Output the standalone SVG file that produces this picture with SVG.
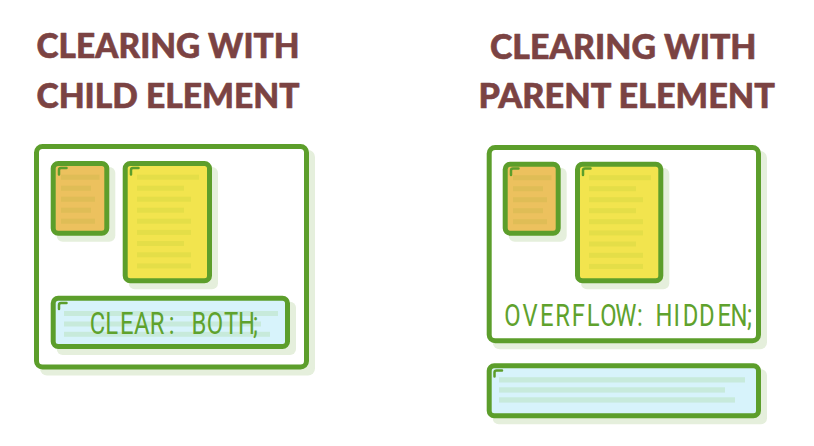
<svg xmlns="http://www.w3.org/2000/svg" width="814" height="446" viewBox="0 0 814 446">
<defs>
<style>
.title{font-family:Lato,"Open Sans","Liberation Sans",sans-serif;font-weight:900;font-size:34px;fill:#7b4343;stroke:#7b4343;stroke-width:0.6;stroke-linejoin:round}
.code{font-family:Roboto,"Liberation Sans",sans-serif;font-weight:400;font-size:30.5px;fill:#5fa22d;text-anchor:middle}
.box{stroke:#5c9e2b;stroke-width:5}
.outer{fill:#ffffff}
.orange{fill:#ecc15e}
.yellow{fill:#f2e44e}
.blue{fill:#d7f3fb}
.shadow{fill:#e5efdc}
.lo{fill:#dfbd56}
.ly{fill:#e4de48}
.lb{fill:#c7eadb}
.mark{fill:none;stroke:#5c9e2b;stroke-width:2.5;stroke-linecap:round}
</style>
</defs>
<rect width="814" height="446" fill="#ffffff"/>

<g id="title-left">
<text class="title" x="36.5" y="57.5" textLength="263" lengthAdjust="spacingAndGlyphs">CLEARING WITH</text>
<text class="title" x="36.5" y="107.5" textLength="263" lengthAdjust="spacingAndGlyphs">CHILD ELEMENT</text>
</g>
<g id="title-right">
<text class="title" x="490" y="59" textLength="266.5" lengthAdjust="spacingAndGlyphs">CLEARING WITH</text>
<text class="title" x="478.5" y="108" textLength="296.5" lengthAdjust="spacingAndGlyphs">PARENT ELEMENT</text>
</g>

<!-- LEFT -->
<g id="left-parent">
<rect class="shadow" x="40" y="150" width="275" height="225.5" rx="7"/>
<rect class="box outer" x="36.5" y="146.5" width="270" height="220.5" rx="6"/>
</g>
<g id="left-orange">
<rect class="shadow" x="56.7" y="167" width="58.6" height="74.7" rx="6"/>
<rect class="box orange" x="53.2" y="163.5" width="53.6" height="69.7" rx="5"/>
<rect class="lo" x="61" y="174.7" width="38.5" height="5"/>
<rect class="lo" x="61" y="185.7" width="30" height="5"/>
<rect class="lo" x="61" y="196.7" width="34" height="5"/>
<rect class="lo" x="61" y="207.7" width="30" height="5"/>
<rect class="lo" x="61" y="218.7" width="34" height="5"/>
<path class="mark" d="M59 174.5 v-4.5 a2 2 0 0 1 2-2 h5.5"/>
</g>
<g id="left-yellow">
<rect class="shadow" x="128.7" y="167" width="89.3" height="122.3" rx="6"/>
<rect class="box yellow" x="125.2" y="163.5" width="84.3" height="117.3" rx="5"/>
<rect class="ly" x="137" y="174.7" width="62" height="5"/>
<rect class="ly" x="137" y="185.7" width="47" height="5"/>
<rect class="ly" x="137" y="196.7" width="54" height="5"/>
<rect class="ly" x="137" y="207.7" width="47" height="5"/>
<rect class="ly" x="137" y="218.7" width="54" height="5"/>
<rect class="ly" x="137" y="229.9" width="54" height="5"/>
<rect class="ly" x="137" y="241" width="47" height="5"/>
<rect class="ly" x="137" y="252.3" width="54" height="5"/>
<rect class="ly" x="137" y="263.4" width="54" height="5"/>
<path class="mark" d="M131 174.5 v-4.5 a2 2 0 0 1 2-2 h5.5"/>
</g>
<g id="left-clear">
<rect class="shadow" x="56.7" y="301.7" width="239.3" height="53.3" rx="6"/>
<rect class="box blue" x="53.2" y="298.2" width="234.3" height="48.3" rx="5"/>
<rect class="lb" x="64" y="311" width="214" height="5"/>
<rect class="lb" x="64" y="321.5" width="197" height="5"/>
<rect class="lb" x="64" y="331.8" width="206" height="5"/>
<path class="mark" d="M59 309 v-4 a2 2 0 0 1 2-2 h5.5"/>
<text class="code" transform="scale(0.78 1)" y="334.3" x="125.0 143.2 162.4 181.7 201.3 219.9 237.2 255.1 275.6 296.2 316.0 327.5">CLEAR: BOTH;</text>
</g>

<!-- RIGHT -->
<g id="right-parent">
<rect class="shadow" x="492.7" y="151" width="274.3" height="198.3" rx="7"/>
<rect class="box outer" x="489.2" y="147.5" width="269.3" height="193.3" rx="6"/>
<text class="code" transform="scale(0.78 1)" y="326" x="657.1 679.5 700.9 721.2 741.4 760.6 779.9 802.3 820.5 835.9 851.3 867.6 885.3 906.1 928.5 947.4 961.0">OVERFLOW: HIDDEN;</text>
</g>
<g id="right-orange">
<rect class="shadow" x="508.7" y="167.7" width="58" height="74" rx="6"/>
<rect class="box orange" x="505.2" y="164.2" width="53" height="69" rx="5"/>
<rect class="lo" x="513" y="175.2" width="38.5" height="5"/>
<rect class="lo" x="513" y="186.2" width="30" height="5"/>
<rect class="lo" x="513" y="197.2" width="34" height="5"/>
<rect class="lo" x="513" y="208.2" width="30" height="5"/>
<rect class="lo" x="513" y="219.2" width="34" height="5"/>
<path class="mark" d="M511 175 v-4.5 a2 2 0 0 1 2-2 h5.5"/>
</g>
<g id="right-yellow">
<rect class="shadow" x="581" y="167.7" width="88.3" height="121.6" rx="6"/>
<rect class="box yellow" x="577.5" y="164.2" width="83.3" height="116.6" rx="5"/>
<rect class="ly" x="589" y="175.2" width="62" height="5"/>
<rect class="ly" x="589" y="186.2" width="47" height="5"/>
<rect class="ly" x="589" y="197.2" width="54" height="5"/>
<rect class="ly" x="589" y="208.2" width="47" height="5"/>
<rect class="ly" x="589" y="219.2" width="54" height="5"/>
<rect class="ly" x="589" y="230.4" width="54" height="5"/>
<rect class="ly" x="589" y="241.5" width="47" height="5"/>
<rect class="ly" x="589" y="252.8" width="54" height="5"/>
<rect class="ly" x="589" y="263.9" width="54" height="5"/>
<path class="mark" d="M583 175 v-4.5 a2 2 0 0 1 2-2 h5.5"/>
</g>
<g id="right-sibling">
<rect class="shadow" x="492.7" y="369.3" width="274.3" height="55" rx="6"/>
<rect class="box blue" x="489.2" y="365.8" width="269.3" height="50" rx="5"/>
<rect class="lb" x="499" y="377.2" width="246" height="5.3"/>
<rect class="lb" x="499" y="387.3" width="226" height="5.3"/>
<rect class="lb" x="499" y="397.3" width="236" height="5.3"/>
<path class="mark" d="M494.5 376.5 v-4 a2 2 0 0 1 2-2 h5.5"/>
</g>
</svg>
